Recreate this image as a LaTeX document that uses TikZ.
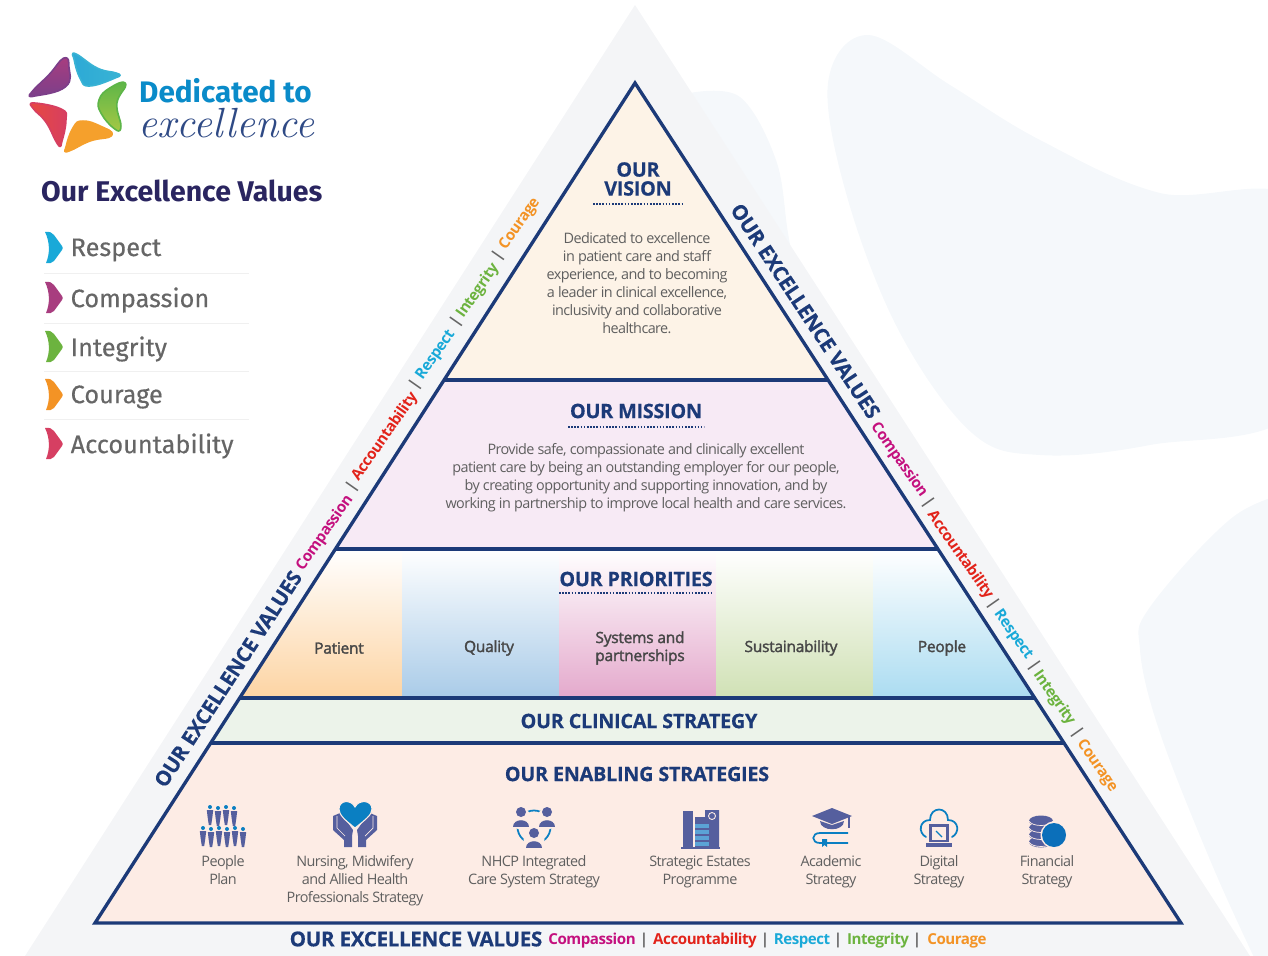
\documentclass[tikz,border=0pt]{standalone}
\usepackage{fontspec}
\newfontfamily\bodyfont[LetterSpace=-4]{Open Sans}
\newfontfamily\semifont[FakeBold=2,LetterSpace=-1.5]{Open Sans}
\newfontfamily\valuefont[LetterSpace=-3]{Open Sans}
\newfontfamily\headfont[LetterSpace=-1.5,BoldFeatures={FakeBold=0.4}]{Open Sans}
\newfontfamily\logofont{Fira Sans}
\newfontfamily\legendfont[FakeBold=0.4]{Fira Sans}
\definecolor{navy}{HTML}{1C3A78}
\definecolor{slate}{HTML}{555F9E}
\definecolor{iconblue}{HTML}{0A7FC2}
\definecolor{coinblue}{HTML}{0B6FBA}
\definecolor{shelfblue}{HTML}{5BA3D6}
\definecolor{bodygray}{HTML}{5F5F5F}
\definecolor{sidegray}{HTML}{F4F5F7}
\definecolor{blobblue}{HTML}{F5F8FB}
\definecolor{visionfill}{HTML}{FDF3E7}
\definecolor{missionfill}{HTML}{F7EAF5}
\definecolor{clinicalfill}{HTML}{ECF3EA}
\definecolor{enablingfill}{HTML}{FDECE5}
\definecolor{compassion}{HTML}{C4107E}
\definecolor{accountability}{HTML}{E2231A}
\definecolor{respect}{HTML}{19A9D8}
\definecolor{integrity}{HTML}{6CB33F}
\definecolor{courage}{HTML}{F39325}
\definecolor{petalMagA}{HTML}{A83D7F}
\definecolor{petalMagB}{HTML}{7C3F8A}
\definecolor{petalBluA}{HTML}{2CA9D6}
\definecolor{petalBluB}{HTML}{39B3D4}
\definecolor{petalGreA}{HTML}{5DB548}
\definecolor{petalGreB}{HTML}{A5C845}
\definecolor{petalOra}{HTML}{F5A02C}
\definecolor{petalRedA}{HTML}{E8483F}
\definecolor{petalRedB}{HTML}{D63F62}
\definecolor{logoblue}{HTML}{0A8BC9}
\definecolor{logonavy}{HTML}{2F4A85}
\definecolor{legendnavy}{HTML}{2A2560}
\tikzset{
    bandline/.style={navy,line width=1.9pt},
    titlerule/.style={navy,line width=1pt,dash pattern=on 0.9pt off 0.9pt},
    headtext/.style={navy,align=center,font=\headfont\bfseries\fontsize{11.3}{10.8}\selectfont},
    bodytext/.style={bodygray,align=center,font=\bodyfont\fontsize{8.2}{10.24}\selectfont},
    prioritytext/.style={black!72,align=center,font=\semifont\fontsize{8.8}{10.24}\selectfont},
    edgetitle/.style={navy,font=\headfont\bfseries\fontsize{11.7}{12}\selectfont},
    edgevalue/.style={font=\valuefont\bfseries\fontsize{8.6}{10}\selectfont},
    legendtext/.style={black!60,anchor=west,font=\legendfont\fontsize{14.4}{16}\selectfont},
    petaledge/.style={line width=2pt,line join=round},
}
\begin{document}
\begin{tikzpicture}[x=0.02cm,y=-0.02cm]
    \useasboundingbox (0,0) rectangle (1268,956);

    % background
    \begin{scope}
        \clip (0,0) rectangle (1268,956);
        \fill[blobblue] plot[smooth cycle,tension=0.6] coordinates {(828,83) (868,35) (950,85) (1040,140) (1160,193) (1300,205) (1300,405) (1150,445) (1040,455) (972,433) (900,333) (848,200)};
        \fill[blobblue] plot[smooth,tension=0.6] coordinates {(690,93) (740,97) (776,160) (788,233) (800,300)} -- cycle;
        \fill[blobblue] plot[smooth,tension=0.6] coordinates {(1300,490) (1233,517) (1150,607) (1140,650) (1160,733) (1213,867) (1260,970)} -- (1300,970) -- cycle;
        \fill[sidegray] (635,5) -- (1250,956) -- (25,956) -- cycle;
    \end{scope}

    % pyramid bands
    \coordinate (apex) at (635,83);
    \coordinate (baseL) at (95,923);
    \coordinate (baseR) at (1181,923);
    \coordinate (visionL) at (444,380);
    \coordinate (visionR) at (828,380);
    \coordinate (missionL) at (335,549);
    \coordinate (missionR) at (938,549);
    \coordinate (priorityL) at (240,698);
    \coordinate (priorityR) at (1035,698);
    \coordinate (clinicalL) at (211,743);
    \coordinate (clinicalR) at (1064,743);
    \fill[white] (apex) -- (baseR) -- (baseL) -- cycle;
    \fill[visionfill] (apex) -- (visionR) -- (visionL) -- cycle;
    \fill[missionfill] (visionL) -- (visionR) -- (missionR) -- (missionL) -- cycle;
    \fill[clinicalfill] (priorityL) -- (priorityR) -- (clinicalR) -- (clinicalL) -- cycle;
    \fill[enablingfill] (clinicalL) -- (clinicalR) -- (baseR) -- (baseL) -- cycle;
    \begin{scope}
        \clip (missionL) -- (missionR) -- (priorityR) -- (priorityL) -- cycle;
        \foreach \xa/\xb/\shadehex in {230/402/FDD4A3,402/559/A9CBE8,559/716/E4A9CC,716/873/D0E1B5,873/1045/ABDCF1} {
            \definecolor{shadecol}{HTML}{\shadehex}
            \shade[top color=white,bottom color=shadecol] (\xa,549) rectangle (\xb,698);
        }
    \end{scope}
    \draw[bandline,line join=miter] (apex) -- (baseR) -- (baseL) -- cycle;
    \foreach \a/\b in {visionL/visionR,missionL/missionR,priorityL/priorityR,clinicalL/clinicalR} {
        \draw[bandline] (\a) -- (\b);
    }

    % vision and mission
    \node[headtext] (vision) at (638,179) {OUR\\VISION};
    \node[bodytext] (visionText) at (637,283.5) {Dedicated to excellence\\in patient care and staff\\experience, and to becoming\\a leader in clinical excellence,\\inclusivity and collaborative\\healthcare.};
    \node[headtext] (mission) at (636,411) {OUR MISSION};
    \node[bodytext] (missionText) at (646,478) {Provide safe, compassionate and clinically excellent\\patient care by being an outstanding employer for our people,\\by creating opportunity and supporting innovation, and by\\working in partnership to improve local health and care services.};
    \node[headtext] (priorities) at (636,579) {OUR PRIORITIES};
    \coordinate (ruleA) at (593,204);
    \coordinate (ruleB) at (683,204);
    \coordinate (ruleC) at (568,427);
    \coordinate (ruleD) at (704,427);
    \coordinate (ruleE) at (559,593);
    \coordinate (ruleF) at (713,593);
    \draw[titlerule] (ruleA) -- (ruleB);
    \draw[titlerule] (ruleC) -- (ruleD);
    \draw[titlerule] (ruleE) -- (ruleF);

    % priorities
    \foreach \x/\name/\txt in {339/patient/Patient,489/quality/Quality,640/systems/{Systems and\\partnerships},791/sustain/Sustainability,942/people/People} {
        \node[prioritytext] (\name) at (\x,648) {\txt};
    }
    \node[headtext] (clinical) at (639,721) {OUR CLINICAL STRATEGY};
    \node[headtext] (enabling) at (637,774) {OUR ENABLING STRATEGIES};

    % strategy labels
    \foreach \x/\name/\txt in {223/planA/{People\\Plan},534/planC/{NHCP Integrated\\Care System Strategy},700/planD/{Strategic Estates\\Programme},831/planE/{Academic\\Strategy},939/planF/{Digital\\Strategy},1047/planG/{Financial\\Strategy}} {
        \node[bodytext,anchor=north] (\name) at (\x,848) {\strut\txt};
    }
    \node[bodytext,anchor=north] (planB) at (355,848) {\strut Nursing, Midwifery\\and Allied Health\\Professionals Strategy};

    % icon: people
    \foreach \x/\ya in {210/807,218/808,226/807,234/808,203/828,211/829,219/828,227/829,235/828,243/829} {
        \fill[iconblue] (\x,\ya) circle (2);
        \fill[slate] (\x-3.2,\ya+3) -- (\x+3.2,\ya+3) -- (\x+2.4,\ya+10) -- (\x+1.2,\ya+18) -- (\x-1.2,\ya+18) -- (\x-2.4,\ya+10) -- cycle;
    }
    % icon: hands and heart
    \foreach \s in {1,-1} {
        \fill[slate] (355-\s*11,847) -- (355-\s*3,847) -- (355-\s*3,836) -- (355-\s*2,830) -- (355-\s*7,823) -- (355-\s*12,818) -- (355-\s*15,813) -- (355-\s*22,816) -- (355-\s*22,830) -- (355-\s*11,840) -- cycle;
        \draw[enablingfill,line width=0.4pt] (355-\s*18,816) -- (355-\s*18,828) -- (355-\s*10,836);
    }
    \filldraw[fill=iconblue,draw=enablingfill,line width=0.6pt] (355,828) .. controls (345,820) and (339,815) .. (339,809) .. controls (339,800) and (351,799) .. (355,807) .. controls (359,799) and (372,800) .. (372,809) .. controls (372,815) and (365,820) .. (355,828) -- cycle;
    % icon: integrated care
    \draw[iconblue,line width=1pt] (534,827) circle (16.5);
    \foreach \x/\ya in {521/812,547/812,534/833} {
        \fill[enablingfill] (\x,\ya+7) circle (10.5);
        \fill[slate] (\x,\ya) circle (5);
        \fill[slate] (\x-8,\ya+15) .. controls (\x-8,\ya+6) and (\x+8,\ya+6) .. (\x+8,\ya+15) -- cycle;
    }
    % icon: estates
    \fill[slate] (683,811) rectangle (693,847);
    \fill[slate] (695,817) -- (705,817) -- (705,810) -- (719,810) -- (719,847) -- (695,847) -- cycle;
    \fill[slate] (681,847) rectangle (720,849);
    \foreach \ya in {824,830,836,842} {
        \fill[shelfblue] (695,\ya) rectangle (709,\ya+4);
    }
    \draw[enablingfill,line width=0.5pt] (712,816) circle (3.5);
    % icon: academic
    \fill[slate] (812,816) -- (832,808) -- (852,816) -- (832,824) -- cycle;
    \fill[slate] (820,821) .. controls (820,832) and (844,832) .. (844,821) -- (832,825) -- cycle;
    \draw[slate,line width=0.6pt] (849,817) -- (849,828);
    \draw[iconblue,line width=1pt] (848,833) -- (820,833) .. controls (811,833) and (811,843) .. (820,843) -- (848,843);
    \fill[iconblue] (822,839) -- (827,839) -- (827,847) -- (824.5,845) -- (822,847) -- cycle;
    % icon: digital
    \draw[iconblue,line width=1pt,line cap=round] (926,837) .. controls (918,833) and (919,820) .. (930,820) .. controls (930,806) and (948,806) .. (948,820) .. controls (959,820) and (960,833) .. (952,837);
    \fill[slate] (929,824) rectangle (949,842);
    \fill[enablingfill] (932,827) rectangle (946,840);
    \draw[iconblue,line width=0.7pt] (936,831) -- (942,837);
    \fill[slate] (926,843) rectangle (952,847);
    % icon: financial
    \foreach \ya in {842,835,828,821} {
        \fill[slate] (1041,\ya) ellipse (12 and 5.5);
        \draw[enablingfill,line width=0.4pt] (1029,\ya) .. controls (1032,\ya+6) and (1050,\ya+6) .. (1053,\ya);
    }
    \fill[enablingfill] (1054,835) circle (13.5);
    \fill[coinblue] (1054,835) circle (12);

    % values on the two sides
    \foreach \x/\y/\ang/\name in {228/679/57/titleL,805.5/311/-56.5/titleR} {
        \node[edgetitle,rotate=\ang] (\name) at (\x,\y) {OUR EXCELLENCE VALUES};
    }
    \foreach \x/\y/\col/\txt/\name in {325/533/compassion/Compassion/compL,385/437/accountability/Accountability/accL,436/355/respect/Respect/resL,478/291/integrity/Integrity/intL,520/224/courage/Courage/couL} {
        \node[edgevalue,\col,rotate=55] (\name) at (\x,\y) {\txt};
    }
    \foreach \x/\y/\col/\txt/\name in {899/460/compassion/Compassion/compR,960/555/accountability/Accountability/accR,1013/635/respect/Respect/resR,1054/698/integrity/Integrity/intR,1097/766/courage/Courage/couR} {
        \node[edgevalue,\col,rotate=-55] (\name) at (\x,\y) {\txt};
    }
    \foreach \x/\y/\ang/\name in {352/487/55/barA,415/385/55/barB,456/322/55/barC,498/256/55/barD,928/503/-55/barE,993/604/-55/barF,1034/666/-55/barG,1077/733/-55/barH} {
        \node[edgevalue,black!60,rotate=\ang] (\name) at (\x,\y) {|};
    }

    % values along the base
    \node[edgetitle] (titleB) at (416,939) {OUR EXCELLENCE VALUES};
    \foreach \x/\col/\txt/\name in {592/compassion/Compassion/compB,705/accountability/Accountability/accB,802/respect/Respect/resB,878/integrity/Integrity/intB,957/courage/Courage/couB} {
        \node[edgevalue,\col] (\name) at (\x,940.5) {\txt};
    }
    \foreach \x/\name in {644/barI,765/barJ,838/barK,917/barL} {
        \node[edgevalue,black!60] (\name) at (\x,940.5) {|};
    }

    % logo
    \draw[petaledge,petalMagB] plot[smooth cycle,tension=0.8] coordinates {(64,59) (68,67) (65,86) (35,95) (33,92) (50,75)};
    \shade[top color=petalMagA,bottom color=petalMagB] plot[smooth cycle,tension=0.8] coordinates {(64,59) (68,67) (65,86) (35,95) (33,92) (50,75)};
    \draw[petaledge,petalBluB] plot[smooth cycle,tension=0.8] coordinates {(76,55) (97,69) (116,74) (115,77) (90,85) (81,78) (75,59)};
    \shade[left color=petalBluA,right color=petalBluB] plot[smooth cycle,tension=0.8] coordinates {(76,55) (97,69) (116,74) (115,77) (90,85) (81,78) (75,59)};
    \draw[petaledge,petalGreA] plot[smooth cycle,tension=0.8] coordinates {(125,84) (116,103) (120,126) (115,128) (102,113) (100,100) (110,89)};
    \shade[top color=petalGreA,bottom color=petalGreB] plot[smooth cycle,tension=0.8] coordinates {(125,84) (116,103) (120,126) (115,128) (102,113) (100,100) (110,89)};
    \filldraw[petaledge,petalOra] plot[smooth cycle,tension=0.8] coordinates {(111,135) (90,140) (69,150) (67,147) (74,128) (83,122) (100,127)};
    \draw[petaledge,petalRedB] plot[smooth cycle,tension=0.8] coordinates {(58,143) (47,122) (34,108) (35,104) (61,110) (65,120) (61,141)};
    \shade[left color=petalRedA,right color=petalRedB] plot[smooth cycle,tension=0.8] coordinates {(58,143) (47,122) (34,108) (35,104) (61,110) (65,120) (61,141)};
    \node[logoblue,font=\logofont\bfseries\fontsize{16.9}{18}\selectfont,anchor=west] (logoTop) at (133,91) {Dedicated to};
    \node[logonavy,font=\itshape\fontsize{24}{24}\selectfont,anchor=west] (logoBottom) at (132,123) {excellence};
    \node[legendnavy,font=\logofont\bfseries\fontsize{16.2}{18}\selectfont,anchor=west] (legendTitle) at (35,191) {Our Excellence Values};

    % legend
    \foreach \y/\col/\txt/\name in {248/respect/Respect/legA,298/petalMagA/Compassion/legB,347/integrity/Integrity/legC,395/courage/Courage/legD,444/petalRedB/Accountability/legE} {
        \fill[\col] (45,\y-16) .. controls (50,\y-17) and (52,\y-15) .. (54,\y-13) -- (62,\y-2) .. controls (63,\y) and (63,\y) .. (62,\y+2) -- (54,\y+13) .. controls (52,\y+15) and (49,\y+16) .. (46,\y+15) .. controls (50,\y+6) and (50,\y-6) .. (45,\y-16) -- cycle;
        \node[legendtext] (\name) at (64.5,\y+2) {\txt};
    }
    \foreach \y in {273,323,371,419} {
        \draw[black!6] (44,\y) -- (249,\y);
    }
\end{tikzpicture}
\end{document}
